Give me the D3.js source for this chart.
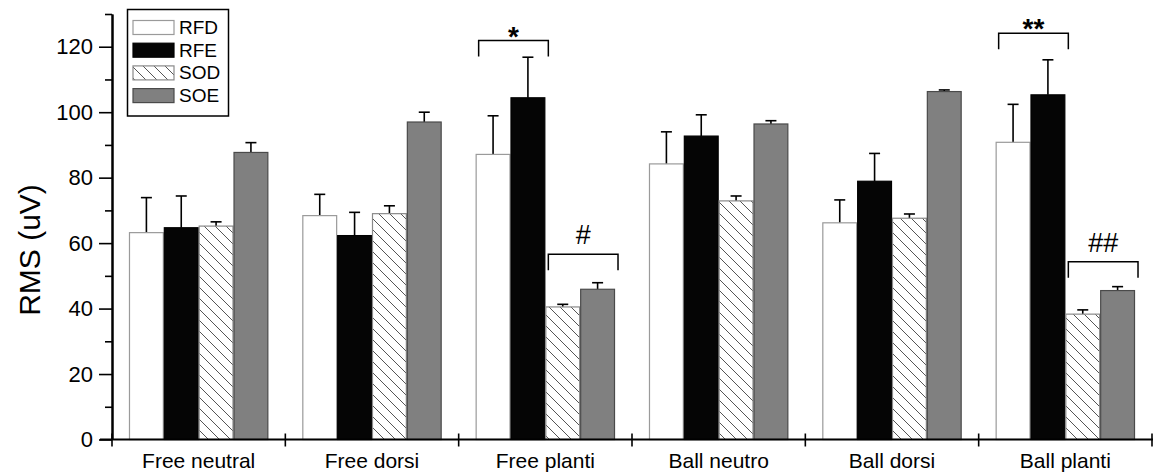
<!DOCTYPE html>
<html><head><meta charset="utf-8">
<script src="https://cdn.jsdelivr.net/npm/d3@7"></script>
<style>body{margin:0;background:#fff}svg{display:block;font-family:"Liberation Sans",Arial,sans-serif}</style>
</head><body><svg id="c" width="1153" height="476"></svg>
<script>
const categories = ["Free neutral","Free dorsi","Free planti","Ball neutro","Ball dorsi","Ball planti"];
const series = ["RFD","RFE","SOD","SOE"];
const RFD = [63.2, 68.4, 87.1, 84.2, 66.2, 90.8];
const RFE = [64.7, 62.3, 104.4, 92.7, 78.9, 105.3];
const SOD = [65.2, 69.0, 40.5, 72.9, 67.6, 38.3];
const SOE = [87.7, 97.0, 45.9, 96.4, 106.3, 45.5];
const RFD_err = [10.7, 6.5, 11.8, 9.8, 7.0, 11.6];
const RFE_err = [9.7, 7.1, 12.4, 6.5, 8.5, 10.7];
const SOD_err = [1.3, 2.4, 0.8, 1.5, 1.3, 1.3];
const SOE_err = [3.0, 3.0, 2.0, 1.0, 0.5, 1.2];
const yMajorTicks = [0,20,40,60,80,100,120];
const yMinorTicks = [10,30,50,70,90,110,130];
const brackets = [
  {cat:"Free planti", from:"RFD", to:"RFE", y:121.9, label:"*"},
  {cat:"Free planti", from:"SOD", to:"SOE", y:56.6, label:"#"},
  {cat:"Ball planti", from:"RFD", to:"RFE", y:124.1, label:"**"},
  {cat:"Ball planti", from:"SOD", to:"SOE", y:54.3, label:"##"}
];

const values = {RFD, RFE, SOD, SOE};
const errors = {RFD: RFD_err, RFE: RFE_err, SOD: SOD_err, SOE: SOE_err};
const fills = {RFD:"#ffffff", RFE:"#050505", SOD:"url(#hatch)", SOE:"#808080"};
const strokes = {RFD:"#9a9a9a", RFE:"#000", SOD:"#8a8a8a", SOE:"#4a4a4a"};

const svg = d3.select("#c");
const defs = svg.append("defs");
const pat = defs.append("pattern").attr("id","hatch").attr("patternUnits","userSpaceOnUse")
  .attr("width",11).attr("height",11);
pat.append("rect").attr("width",11).attr("height",11).attr("fill","#fff");
pat.append("path").attr("d","M0,0L11,11M-2,9L2,13M9,-2L13,2").attr("stroke","#555").attr("stroke-width",1);

const mLeft = 112, mRight = 1152, mTop = 14, mBottom = 439.5;
const y = d3.scaleLinear().domain([0,130]).range([mBottom, mTop]);
const x0 = d3.scaleBand().domain(categories).range([mLeft, mRight]).paddingInner(0.196).paddingOuter(0.098);
const x1 = d3.scaleBand().domain(series).range([0, x0.bandwidth()]);
const xb = d3.scaleLinear().domain([0, categories.length]).range([mLeft, mRight]);

const data = [];
categories.forEach((c,i)=>series.forEach(s=>data.push({c, s, v: values[s][i], e: errors[s][i]})));

const eb = svg.append("g").attr("stroke","#000").attr("stroke-width",1.6);
data.forEach(d=>{
  const cx = x0(d.c) + x1(d.s) + x1.bandwidth()/2;
  eb.append("line").attr("x1",cx).attr("x2",cx).attr("y1",y(d.v)).attr("y2",y(d.v+d.e));
  eb.append("line").attr("x1",cx-5.5).attr("x2",cx+5.5).attr("y1",y(d.v+d.e)).attr("y2",y(d.v+d.e));
});

svg.append("g").selectAll("rect").data(data).join("rect")
  .attr("x", d=>x0(d.c)+x1(d.s)+0.5)
  .attr("y", d=>y(d.v))
  .attr("width", x1.bandwidth()-1)
  .attr("height", d=>y(0)-y(d.v))
  .attr("fill", d=>fills[d.s])
  .attr("stroke", d=>strokes[d.s])
  .attr("stroke-width", 1.2);

const yMajor = svg.append("g").attr("transform",`translate(${mLeft},0)`)
  .call(d3.axisLeft(y).tickValues(yMajorTicks).tickSize(13).tickPadding(6).tickSizeOuter(0));
const yMinor = svg.append("g").attr("transform",`translate(${mLeft},0)`)
  .call(d3.axisLeft(y).tickValues(yMinorTicks).tickSize(7).tickFormat("").tickSizeOuter(0));
[yMajor,yMinor].forEach(g=>{
  g.select(".domain").attr("stroke","#000").attr("stroke-width",2);
  g.selectAll(".tick line").attr("stroke","#000").attr("stroke-width",1.6);
});
yMajor.selectAll("text").attr("font-size",22).attr("fill","#000").attr("font-family","Liberation Sans, Arial, sans-serif");

const xg = svg.append("g").attr("transform",`translate(0,${mBottom})`)
  .call(d3.axisBottom(x0).tickSize(0).tickPadding(13.5).tickSizeOuter(0));
xg.select(".domain").attr("d",`M${mLeft-12},0H${mRight+2}`).attr("stroke","#000").attr("stroke-width",2);
xg.selectAll("text").attr("font-size",21).attr("fill","#000").attr("font-family","Liberation Sans, Arial, sans-serif");
svg.append("g").selectAll("line").data(d3.range(categories.length+1)).join("line")
  .attr("x1",d=>xb(d)).attr("x2",d=>xb(d)).attr("y1",mBottom-6).attr("y2",mBottom+7)
  .attr("stroke","#000").attr("stroke-width",1.6);

svg.append("text").attr("transform",`translate(40,250) rotate(-90)`).attr("text-anchor","middle")
  .attr("font-size",30).attr("fill","#000").text("RMS (uV)");

const bg = svg.append("g");
brackets.forEach(b=>{
  const xa = x0(b.cat)+x1(b.from)+3, xz = x0(b.cat)+x1(b.to)+x1.bandwidth()+3;
  const yy = y(b.y);
  bg.append("path").attr("d",`M${xa},${yy+16}V${yy}H${xz}V${yy+16}`).attr("fill","none")
    .attr("stroke","#000").attr("stroke-width",1.5);
  const star = b.label.startsWith("*");
  bg.append("text").attr("x",(xa+xz)/2).attr("y", star ? yy+5 : yy-10).attr("text-anchor","middle")
    .attr("font-size", star ? 28 : 27).attr("font-weight", star ? "bold" : "normal").attr("fill","#000").text(b.label);
});

const lg = svg.append("g");
lg.append("rect").attr("x",127.5).attr("y",9.5).attr("width",101).attr("height",106.5)
  .attr("fill","#fff").attr("stroke","#000").attr("stroke-width",1.5);
series.forEach((s,i)=>{
  const yy = 20.5 + i*22.7;
  lg.append("rect").attr("x",133).attr("y",yy).attr("width",41).attr("height",14)
    .attr("fill",fills[s]).attr("stroke",strokes[s]).attr("stroke-width",1.2);
  lg.append("text").attr("x",179).attr("y",yy+13.5).attr("font-size",19).attr("fill","#000").text(s);
});
</script></body></html>
